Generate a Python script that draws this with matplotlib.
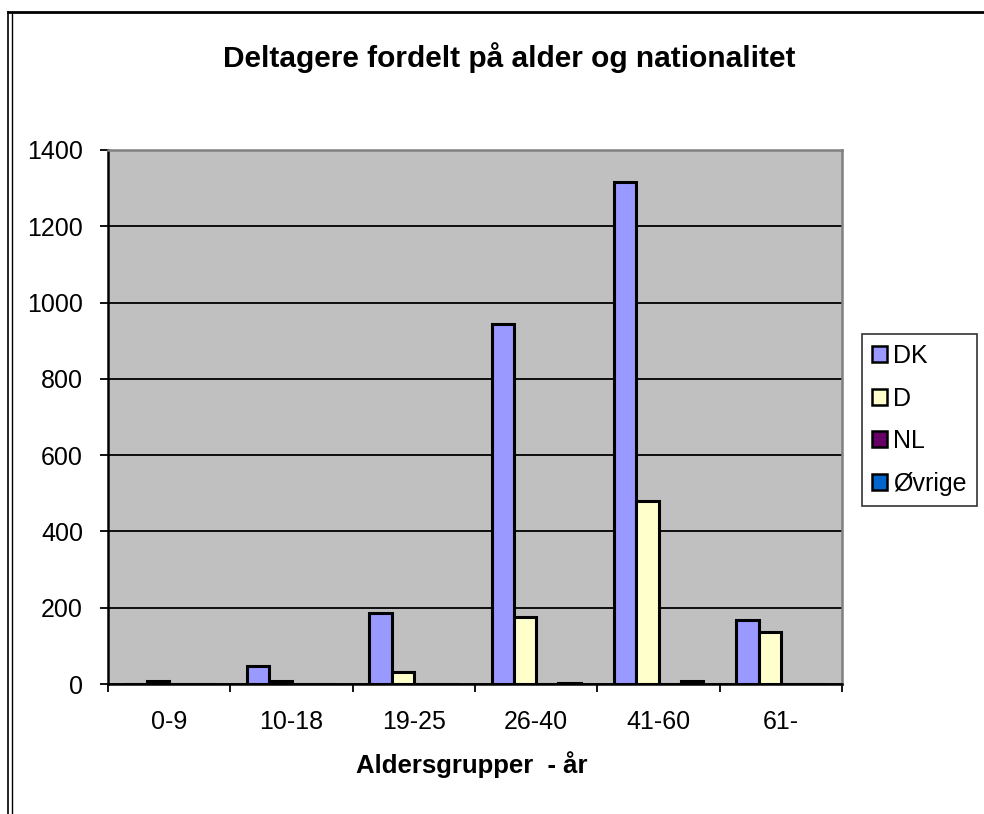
import matplotlib.pyplot as plt
import numpy as np
from matplotlib.lines import Line2D

plt.rcParams['font.family'] = ['Liberation Sans', 'DejaVu Sans']

# data
groups = ['0-9', '10-18', '19-25', '26-40', '41-60', '61-']
series = ['DK', 'D', 'NL', 'Øvrige']
dk = [0, 48, 186, 943, 1317, 168]
d = [8, 9, 31, 176, 481, 136]
nl = [0, 0, 0, 0, 1, 1]
ovrige = [0, 0, 0, 2, 9, 1]
colors = ['#9999FF', '#FFFFCC', '#660066', '#0066CC']

fig = plt.figure(figsize=(9.84, 8.14), dpi=100)
ax = fig.add_axes([108/984, 1-684/814, 734/984, 534/814])
ax.set_facecolor('#C0C0C0')

x = np.arange(len(groups))
w = 1/5.5
for i, (vals, c, lab) in enumerate(zip([dk, d, nl, ovrige], colors, series)):
    ax.bar(x + (i - 1.5)*w, vals, w, color=c, edgecolor='black', linewidth=2.2,
           label=lab, zorder=2)

ax.set_xlim(-0.5, 5.5)
ax.set_ylim(0, 1400)
ax.set_yticks(range(0, 1401, 200))
ax.yaxis.grid(True, color='black', linewidth=1.3)
ax.set_axisbelow(True)

ax.set_xticks(x)
ax.set_xticklabels(groups)
ax.set_xticks(np.arange(-0.5, 5.6, 1), minor=True)
ax.tick_params(axis='x', which='major', length=0, pad=19, labelsize=18)
ax.tick_params(axis='x', which='minor', length=6, width=1.3, direction='out')
ax.tick_params(axis='y', length=6, width=1.3, direction='out', pad=12, labelsize=18)

for s in ['left', 'bottom']:
    ax.spines[s].set_color('black')
    ax.spines[s].set_linewidth(1.8)
for s in ['top', 'right']:
    ax.spines[s].set_color('#808080')
    ax.spines[s].set_linewidth(1.8)

fig.text(509/984, 1-58/814, 'Deltagere fordelt på alder og nationalitet',
         ha='center', va='center', fontsize=21.5, fontweight='bold')
fig.text(472/984, 1-765/814, 'Aldersgrupper  - år',
         ha='center', va='center', fontsize=18.5, fontweight='bold')

leg = fig.legend(loc='upper left', bbox_to_anchor=(862/984, 1-334/814),
                 fontsize=18, frameon=True, fancybox=False, shadow=False,
                 handlelength=0.6, handleheight=0.6, handletextpad=0.25,
                 labelspacing=0.74, borderpad=0.4, borderaxespad=0)
leg.get_frame().set_edgecolor('black')
leg.get_frame().set_linewidth(1.2)
for h in leg.legend_handles:
    h.set_linewidth(1.8)

# outer chart frame
fig.add_artist(Line2D([8/984, 1], [1-12/814, 1-12/814], color='black', linewidth=2,
                      transform=fig.transFigure))
fig.add_artist(Line2D([8/984, 8/984], [0, 1-12/814], color='black', linewidth=1.2,
                      transform=fig.transFigure))
fig.add_artist(Line2D([12/984, 12/984], [0, 1-14/814], color='black', linewidth=1,
                      transform=fig.transFigure))

fig.savefig('out.png', dpi=100)
